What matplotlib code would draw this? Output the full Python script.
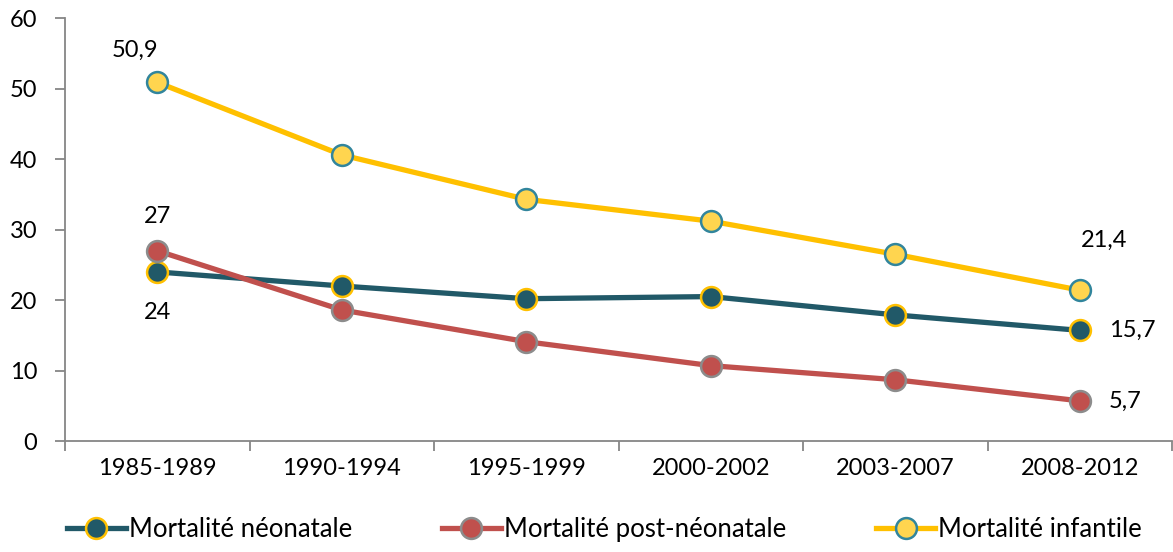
import matplotlib.pyplot as plt

periods = ["1985-1989", "1990-1994", "1995-1999", "2000-2002", "2003-2007", "2008-2012"]
neonatale = [24, 22, 20.2, 20.5, 17.9, 15.7]
post_neonatale = [27, 18.6, 14.1, 10.7, 8.7, 5.7]
infantile = [50.9, 40.6, 34.3, 31.2, 26.5, 21.4]

plt.rcParams['font.family'] = ['Lato', 'DejaVu Sans']

fig = plt.figure(figsize=(11.73, 5.52), dpi=100)
ax = fig.add_axes([0.0554, 0.201, 0.944, 0.766])

x = range(len(periods))
series = [
    ("Mortalité néonatale", neonatale, "#215968", "#215968", "#FFC000"),
    ("Mortalité post-néonatale", post_neonatale, "#C0504D", "#C0504D", "#8C8C8C"),
    ("Mortalité infantile", infantile, "#FFC000", "#FFD54F", "#31859C"),
]
for label, vals, lc, fc, ec in series:
    ax.plot(x, vals, color=lc, linewidth=3.8, marker="o", markersize=15,
            markerfacecolor=fc, markeredgecolor=ec, markeredgewidth=1.8, label=label)

fs = 17
ax.annotate("50,9", (0, infantile[0]), xytext=(-16, 23), textcoords="offset points",
            ha="center", va="center", fontsize=fs)
ax.annotate("27", (0, post_neonatale[0]), xytext=(0, 25), textcoords="offset points",
            ha="center", va="center", fontsize=fs)
ax.annotate("24", (0, neonatale[0]), xytext=(0, -29), textcoords="offset points",
            ha="center", va="center", fontsize=fs)
ax.annotate("21,4", (5, infantile[5]), xytext=(17, 36), textcoords="offset points",
            ha="center", va="center", fontsize=fs)
ax.annotate("15,7", (5, neonatale[5]), xytext=(21, 0), textcoords="offset points",
            ha="left", va="center", fontsize=fs)
ax.annotate("5,7", (5, post_neonatale[5]), xytext=(21, 0), textcoords="offset points",
            ha="left", va="center", fontsize=fs)

ax.set_xlim(-0.5, 5.5)
ax.set_ylim(0, 60)
ax.set_yticks(range(0, 61, 10))
ax.set_xticks(list(x))
ax.set_xticklabels(periods)
ax.set_xticks([i - 0.5 for i in range(7)], minor=True)
ax.tick_params(axis="x", which="major", length=0, pad=12, labelsize=fs)
ax.tick_params(axis="x", which="minor", length=7, color="#868686", width=1.3)
ax.tick_params(axis="y", length=7, color="#868686", width=1.3, labelsize=fs, pad=13)

for s in ["top", "right"]:
    ax.spines[s].set_visible(False)
for s in ["left", "bottom"]:
    ax.spines[s].set_color("#868686")
    ax.spines[s].set_linewidth(1.3)

fig.legend(loc="lower left", bbox_to_anchor=(0.037, -0.024), ncol=3, frameon=False,
           fontsize=18.5, handlelength=2.3, handletextpad=0.12, columnspacing=3.5)

fig.savefig("out.png", dpi=100)
